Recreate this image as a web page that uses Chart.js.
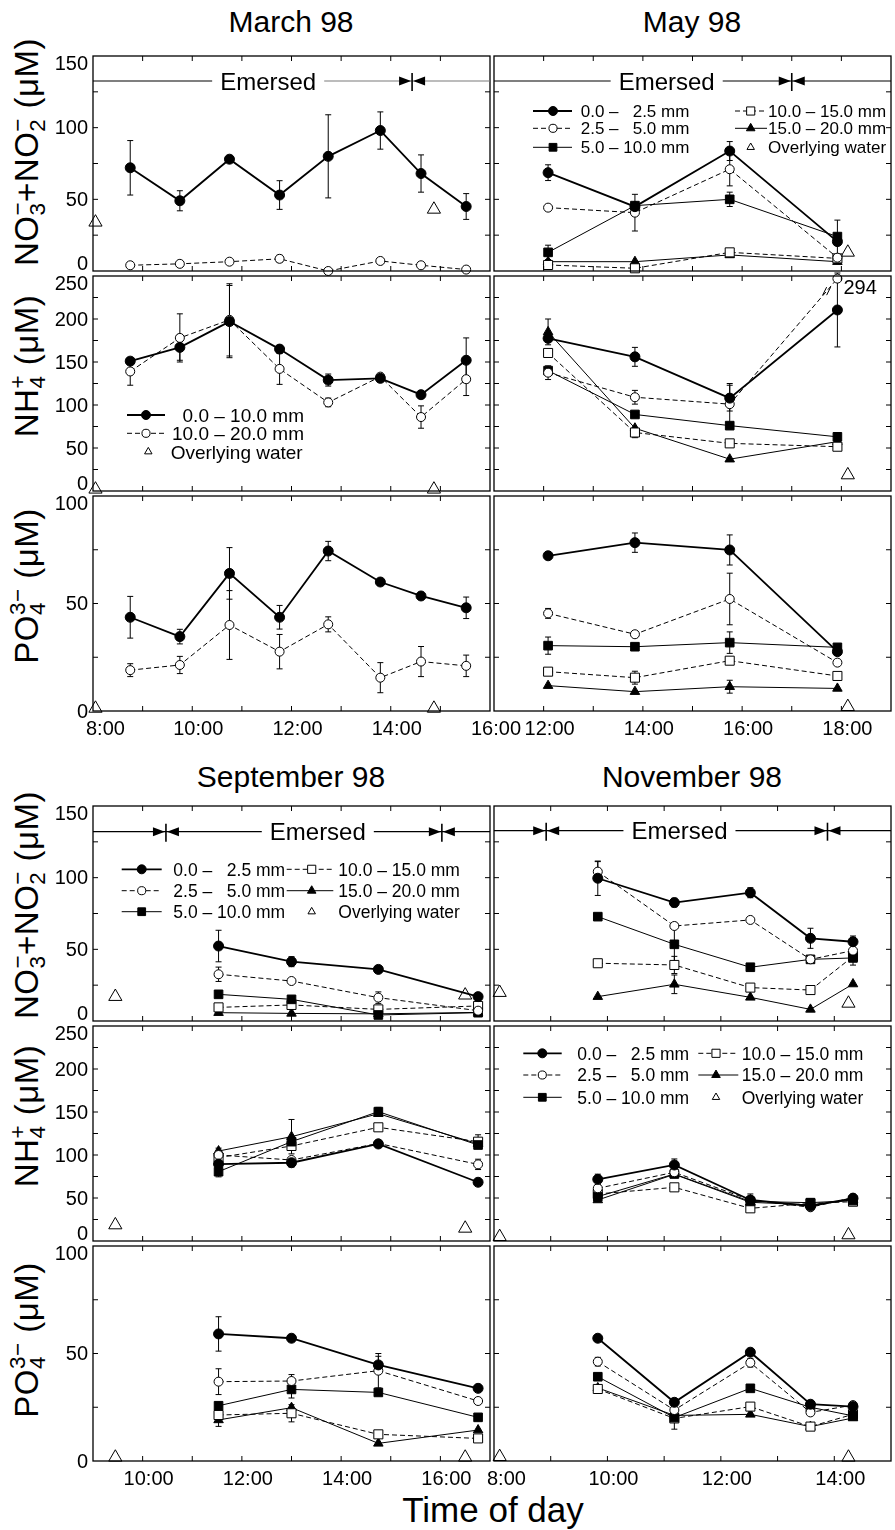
<!DOCTYPE html>
<html>
<head>
<meta charset="utf-8">
<title>Pore-water nutrients 1998</title>
<script src="https://cdn.jsdelivr.net/npm/chart.js@4.4.1/dist/chart.umd.min.js"></script>
<style>
  body { margin: 0; background: #fff; }
  #fig { position: relative; width: 895px; height: 1530px; overflow: hidden;
         font-family: "Liberation Sans", Arial, Helvetica, sans-serif; color: #000; }
  #fig canvas { position: absolute; }
  .title { position: absolute; font-size: 30px; white-space: nowrap; transform: translate(-50%, -50%); }
  .ytitle { position: absolute; font-size: 33px; letter-spacing: 0.5px; line-height: 1; white-space: nowrap;
            transform: translate(-50%, -50%) rotate(-90deg); }
  .st { display: inline-block; font-size: 0.68em; line-height: 0.9em; vertical-align: -0.3em; text-align: left; }
  .xtitle { position: absolute; font-size: 35px; white-space: nowrap; transform: translate(-50%, -50%); }
</style>
</head>
<body>
<div id="fig">
  <div class="title" style="left:291px;top:22px">March 98</div>
  <div class="title" style="left:692px;top:22px">May 98</div>
  <div class="title" style="left:291px;top:777px">September 98</div>
  <div class="title" style="left:692px;top:777px">November 98</div>

  <div class="ytitle" style="left:28px;top:152px">NO<span class="st">&minus;<br>3</span>+NO<span class="st">&minus;<br>2</span> (&mu;M)</div>
  <div class="ytitle" style="left:28px;top:366px">NH<span class="st">+<br>4</span> (&mu;M)</div>
  <div class="ytitle" style="left:28px;top:586px">PO<span class="st">3&minus;<br>4</span> (&mu;M)</div>
  <div class="ytitle" style="left:28px;top:905px">NO<span class="st">&minus;<br>3</span>+NO<span class="st">&minus;<br>2</span> (&mu;M)</div>
  <div class="ytitle" style="left:28px;top:1116px">NH<span class="st">+<br>4</span> (&mu;M)</div>
  <div class="ytitle" style="left:28px;top:1340px">PO<span class="st">3&minus;<br>4</span> (&mu;M)</div>

  <div class="xtitle" style="left:493px;top:1510px">Time of day</div>
</div>
<script>
const FONT = '"Liberation Sans", Arial, Helvetica, sans-serif';

// axis tick labels
const noxTicks = [0, 50, 100, 150];
const nh4Ticks = [0, 50, 100, 150, 200, 250];
const po4Ticks = [0, 50, 100];
const marchHours = [8, 10, 12, 14, 16];
const mayHours = [12, 14, 16, 18];
const sepHours = [10, 12, 14, 16];
const novHours = [8, 10, 12, 14];

// ---- March 98: 0-10 mm and 10-20 mm layers ----
const marchTimes = [8.75, 9.75, 10.75, 11.76, 12.74, 13.79, 14.61, 15.52];
const marchWaterTimes = [8.05, 14.87];
const marchNOxUpper = [72, 49, 78, 53, 80, 98, 68, 45];
const marchNOxUpperErr = [19, 7, 1.5, 10, 29, 13, 13, 9];
const marchNOxLower = [4, 5, 6.5, 8.5, 0, 7, 4, 1];
const marchNOxLowerErr = [0, 0, 0, 2.5, 0, 0, 0, 0];
const marchNOxWater = [34, 43];
const marchNH4Upper = [151, 167, 197, 165, 129, 131, 112, 152];
const marchNH4UpperErr = [4, 15, 42, 4, 7, 3, 3, 26];
const marchNH4Lower = [139, 178, 199, 142, 103, 133, 86, 130];
const marchNH4LowerErr = [16, 28, 42, 18, 5, 2, 13, 19];
const marchNH4Water = [2, 2];
const marchPO4Upper = [43.6, 34.6, 64, 43.6, 74.4, 60, 53.5, 48];
const marchPO4UpperErr = [9.7, 3.4, 12, 5.5, 4.5, 0, 0, 5];
const marchPO4Lower = [19, 21.4, 40, 27.6, 40.3, 15.5, 23, 21];
const marchPO4LowerErr = [3, 4, 16, 8, 3.5, 7, 7, 5];
const marchPO4Water = [1.2, 1.2];
const marchTide = [14.43];

// ---- May 98: five layers (0-2.5, 2.5-5, 5-10, 10-15, 15-20 mm) ----
const mayTimes = [12.09, 13.84, 15.75, 17.92];
const mayWaterTimes = [18.13];
const mayNOx = [
  [68.6, 44.9, 83.7, 20.5],
  [44.2, 40.7, 71.0, 9.3],
  [13.0, 45.6, 50.0, 24.0],
  [4.2, 1.9, 13.0, 8.8],
  [6.5, 6.5, 11.2, 6.5]];
const mayNOxErr = [
  [5.5, 0, 6.6, 15],
  [0, 12.8, 11.6, 0],
  [5, 0, 5, 0],
  [0, 0, 0, 0],
  [0, 0, 0, 0]];
const mayNOxWater = [13];
const mayNH4 = [
  [177.5, 156, 108, 210.5],
  [137.6, 109, 101, 294],
  [140, 89, 76, 63],
  [160.5, 68, 55.4, 51.5],
  [185, 73, 37, 57.4]];
const mayNH4Err = [
  [0, 11, 15, 43],
  [8, 8, 24, 0],
  [0, 0, 0, 0],
  [0, 6, 0, 0],
  [15, 0, 0, 0]];
const mayNH4Water = [18.6];
const mayPO4 = [
  [72.2, 78.3, 74.9, 27.6],
  [45.4, 35.7, 52.1, 22.5],
  [30.4, 29.9, 31.8, 29.6],
  [18.3, 15.5, 23.4, 16.3],
  [11.8, 9.0, 11.3, 10.5]];
const mayPO4Err = [
  [0, 4.5, 7, 0],
  [2.3, 0, 12, 0],
  [4, 0, 5, 0],
  [0, 3, 0, 0],
  [0, 0, 3, 0]];
const mayPO4Water = [2];
const mayTide = [17.0];

// ---- September 98 ----
const sepTimes = [11.53, 13.0, 14.75, 16.76];
const sepWaterTimes = [9.45, 16.5];
const sepNOx = [
  [52.3, 41.4, 36.0, 17.0],
  [32.6, 27.9, 16.3, 7.2],
  [18.6, 15.1, 4.2, 5.8],
  [9.5, 11.2, 8.1, 10.5],
  [5.8, 5.3, 5.0, 6.0]];
const sepNOxErr = [
  [11, 3.5, 0, 0],
  [5, 0, 4, 0],
  [0, 0, 0, 0],
  [0, 0, 0, 0],
  [0, 0, 0, 0]];
const sepNOxWater = [17, 18];
const sepNH4 = [
  [89.5, 91, 112.8, 68.3],
  [100, 94.2, 113.4, 89.1],
  [80.6, 115.5, 150.4, 111.6],
  [97, 110.5, 132.2, 115.5],
  [104.6, 121.3, 148, 113]];
const sepNH4Err = [
  [0, 5, 0, 0],
  [8, 0, 0, 6],
  [6, 0, 5, 0],
  [0, 0, 0, 8],
  [0, 20, 0, 0]];
const sepNH4Water = [18.6, 14.7];
const sepPO4 = [
  [59.1, 57.1, 44.7, 33.8],
  [36.9, 37.2, 42.0, 27.9],
  [25.7, 33.3, 31.9, 20.3],
  [21.4, 22.2, 12.4, 10.5],
  [19.1, 24.8, 8.2, 14.4]];
const sepPO4Err = [
  [8, 0, 4, 0],
  [6, 3, 8, 0],
  [0, 4, 0, 0],
  [0, 4, 0, 0],
  [3, 0, 0, 0]];
const sepPO4Water = [1.7, 1.7];
const sepTide = [10.47, 16.03];

// ---- November 98 ----
const novTimes = [9.83, 11.18, 12.52, 13.58, 14.33];
const novWaterTimes = [8.1, 14.25];
const novNOx = [
  [99.6, 82.6, 89.5, 57.7, 55.3],
  [104.2, 66.3, 70.5, 43.0, 49.1],
  [72.8, 53.5, 37.5, 43.0, 44.0],
  [40.3, 39.1, 23.3, 21.6, 45.0],
  [17.0, 25.6, 16.5, 8.1, 25.8]];
const novNOxErr = [
  [12, 3, 3.5, 7, 4],
  [7, 0, 0, 0, 0],
  [0, 15, 0, 0, 5],
  [0, 6, 0, 0, 0],
  [0, 6.5, 0, 0, 0]];
const novNOxWater = [19.8, 12.3];
const novNH4 = [
  [71.7, 88.4, 47.7, 40.7, 49.6],
  [61.3, 79.9, 47.7, 39.2, 50.4],
  [51.6, 77.9, 46.0, 44.6, 47.0],
  [54.7, 62.4, 38.0, 43.8, 45.7],
  [47.7, 77.5, 45.0, 42.0, 48.0]];
const novNH4Err = [
  [6, 7, 7, 0, 0],
  [0, 0, 0, 0, 0],
  [0, 0, 0, 0, 0],
  [0, 0, 0, 0, 0],
  [0, 0, 0, 0, 0]];
const novNH4Water = [5, 7];
const novPO4 = [
  [57.1, 27.3, 50.6, 26.4, 25.3],
  [46.2, 23.7, 45.7, 22.6, 26.0],
  [39.2, 20.2, 33.8, 25.0, 21.0],
  [33.5, 19.8, 25.3, 16.0, 21.7],
  [34.0, 21.2, 21.7, 16.0, 20.0]];
const novPO4Err = [
  [0, 0, 0, 0, 0],
  [2, 0, 2, 0, 0],
  [0, 0, 0, 0, 0],
  [0, 5, 0, 0, 0],
  [0, 0, 0, 0, 0]];
const novPO4Water = [2, 1.7];
const novTide = [8.92, 13.88];

// marker / line style for each layer
const STY = {
  d0: { style: 'circle', fill: '#000', r: 5, lw: 1.8, dash: [] },
  d1: { style: 'circle', fill: '#fff', r: 4.5, lw: 1, dash: [5, 3] },
  d2: { style: 'rect', fill: '#000', r: 6.1, lw: 1, dash: [] },
  d3: { style: 'rect', fill: '#fff', r: 6.4, lw: 1, dash: [5, 3] },
  d4: { style: 'triangle', fill: '#000', r: 5.5, lw: 1, dash: [] },
  w:  { style: 'triangle', fill: '#fff', r: 7.6, lw: 1, dash: [] }
};
const LAYER_KEYS = ['d0', 'd1', 'd2', 'd3', 'd4'];

function series(key, times, vals, errs, cap) {
  const s = STY[key];
  return {
    data: times.map((t, i) => ({ x: t, y: cap ? Math.min(vals[i], cap) : vals[i] })),
    errs: errs || null,
    showLine: key !== 'w',
    borderColor: '#000',
    borderWidth: s.lw,
    borderDash: s.dash,
    pointStyle: s.style,
    pointRadius: s.r,
    pointBackgroundColor: s.fill,
    pointBorderColor: '#000',
    pointBorderWidth: 1,
    tension: 0,
    fill: false,
    clip: false
  };
}

function layerSets(vals, errs, times, wTimes, wVals, cap) {
  const sets = vals.map((v, i) => series(LAYER_KEYS[i], times, v, errs[i], cap));
  sets.push(series('w', wTimes, wVals));
  return sets;
}

function drawMarker(ctx, style, x, y, r, fill) {
  ctx.save();
  ctx.setLineDash([]);
  ctx.lineWidth = 1;
  ctx.fillStyle = fill;
  ctx.strokeStyle = '#000';
  ctx.beginPath();
  if (style === 'circle') {
    ctx.arc(x, y, r, 0, Math.PI * 2);
  } else if (style === 'rect') {
    const s = r * Math.SQRT1_2;
    ctx.rect(x - s, y - s, 2 * s, 2 * s);
  } else {
    ctx.moveTo(x, y - r);
    ctx.lineTo(x + r * Math.sin(2 * Math.PI / 3), y - r * Math.cos(2 * Math.PI / 3));
    ctx.lineTo(x + r * Math.sin(4 * Math.PI / 3), y - r * Math.cos(4 * Math.PI / 3));
    ctx.closePath();
  }
  ctx.fill();
  ctx.stroke();
  ctx.restore();
}

function framePlugin(p) {
  return {
    id: 'frame',
    beforeDatasetsDraw(chart) {
      // error bars under the markers
      const ctx = chart.ctx, xs = chart.scales.x, ys = chart.scales.y;
      ctx.save();
      ctx.strokeStyle = '#000';
      ctx.lineWidth = 1;
      chart.data.datasets.forEach(ds => {
        if (!ds.errs) return;
        ds.data.forEach((pt, i) => {
          const e = ds.errs[i];
          if (!e) return;
          const x = xs.getPixelForValue(pt.x);
          const ya = ys.getPixelForValue(pt.y - e), yb = ys.getPixelForValue(pt.y + e);
          ctx.beginPath();
          ctx.moveTo(x, ya); ctx.lineTo(x, yb);
          ctx.moveTo(x - 3, ya); ctx.lineTo(x + 3, ya);
          ctx.moveTo(x - 3, yb); ctx.lineTo(x + 3, yb);
          ctx.stroke();
        });
      });
      ctx.restore();
    },
    afterDraw(chart) {
      const ctx = chart.ctx, a = chart.chartArea, xs = chart.scales.x, ys = chart.scales.y;
      ctx.save();
      ctx.strokeStyle = '#000';
      ctx.fillStyle = '#000';
      ctx.lineWidth = 1.3;
      ctx.strokeRect(a.left, a.top, a.right - a.left, a.bottom - a.top);

      // inward ticks
      ctx.lineWidth = 1;
      ctx.beginPath();
      for (let h = Math.floor(p.xmin) + 1; h < p.xmax; h++) {
        const x = xs.getPixelForValue(h);
        ctx.moveTo(x, a.top); ctx.lineTo(x, a.top + 5);
        ctx.moveTo(x, a.bottom); ctx.lineTo(x, a.bottom - 5);
      }
      for (let v = 25; v < p.ymax; v += 25) {
        const y = ys.getPixelForValue(v);
        ctx.moveTo(a.left, y); ctx.lineTo(a.left + 5, y);
        ctx.moveTo(a.right, y); ctx.lineTo(a.right - 5, y);
      }
      ctx.stroke();

      ctx.font = '20px ' + FONT;
      if (p.yLabels) {
        ctx.textAlign = 'right';
        ctx.textBaseline = 'middle';
        p.yTicks.forEach(v => {
          let y = ys.getPixelForValue(v);
          if (v === p.ymax) y = Math.max(y, a.top + 7);
          if (v === 0 && !p.xLabels) y = Math.min(y, a.bottom - 8);
          ctx.fillText(String(v), a.left - 5, y + 1);
        });
      }
      if (p.xLabels) {
        ctx.textAlign = 'center';
        ctx.textBaseline = 'alphabetic';
        p.xLabels.forEach(h => {
          const lab = h + ':00';
          const w = ctx.measureText(lab).width;
          const x = Math.max(xs.getPixelForValue(h) + 6, a.left - 7 + w / 2);
          ctx.fillText(lab, x, a.bottom + 24);
        });
      }

      // tide marker line
      if (p.emersed) {
        const e = p.emersed;
        const y = a.top + e.dy;
        ctx.font = '24px ' + FONT;
        const tx = xs.getPixelForValue(e.labelAt);
        const tw = ctx.measureText('Emersed').width;
        ctx.lineWidth = 1.2;
        ctx.beginPath();
        ctx.moveTo(a.left, y); ctx.lineTo(tx - tw / 2 - 8, y);
        ctx.stroke();
        ctx.strokeStyle = e.rightColor || '#000';
        ctx.beginPath();
        ctx.moveTo(tx + tw / 2 + 8, y); ctx.lineTo(a.right, y);
        ctx.stroke();
        ctx.strokeStyle = '#000';
        ctx.textAlign = 'center';
        ctx.textBaseline = 'alphabetic';
        ctx.fillText('Emersed', tx, y + 8.5);
        e.bars.forEach(t => {
          const bx = xs.getPixelForValue(t);
          ctx.lineWidth = 1.6;
          ctx.beginPath(); ctx.moveTo(bx, y - 8); ctx.lineTo(bx, y + 10); ctx.stroke();
          ctx.beginPath();
          ctx.moveTo(bx - 1, y); ctx.lineTo(bx - 13, y - 4.5); ctx.lineTo(bx - 13, y + 4.5); ctx.closePath();
          ctx.moveTo(bx + 1, y); ctx.lineTo(bx + 13, y - 4.5); ctx.lineTo(bx + 13, y + 4.5); ctx.closePath();
          ctx.fill();
        });
      }

      // legend
      if (p.legend) {
        const L = p.legend;
        ctx.font = L.font + 'px ' + FONT;
        ctx.textBaseline = 'alphabetic';
        L.items.forEach(it => {
          const s = STY[it.key];
          const y = a.top + it.y;
          if (it.line) {
            ctx.save();
            ctx.lineWidth = s.lw;
            ctx.setLineDash(s.dash);
            ctx.beginPath();
            ctx.moveTo(a.left + it.line[0], y); ctx.lineTo(a.left + it.line[1], y);
            ctx.stroke();
            ctx.restore();
          }
          const r = it.key === 'w' ? 4.3 : s.r * 0.9;
          drawMarker(ctx, s.style, a.left + it.mx, y, r, s.fill);
          const by = y + L.font * 0.36;
          if (it.split) {
            const ref = ctx.measureText(it.ref).width;
            ctx.textAlign = 'left';
            ctx.fillText(it.split[0], a.left + it.tx, by);
            ctx.textAlign = 'right';
            ctx.fillText(it.split[1], a.left + it.tx + ref, by);
          } else {
            ctx.textAlign = it.align || 'left';
            ctx.fillText(it.text, a.left + it.tx, by);
          }
        });
      }
      if (p.extra) p.extra(chart, ctx);
      ctx.restore();
    }
  };
}

function twoColLegend(rows, c1, c2, font) {
  const ref = '5.0 \u2013 10.0 mm';
  return { font, items: [
    { key: 'd0', y: rows[0], line: c1.line, mx: c1.mx, tx: c1.tx, split: ['0.0 \u2013', '2.5 mm'], ref },
    { key: 'd1', y: rows[1], line: c1.line, mx: c1.mx, tx: c1.tx, split: ['2.5 \u2013', '5.0 mm'], ref },
    { key: 'd2', y: rows[2], line: c1.line, mx: c1.mx, tx: c1.tx, text: '5.0 \u2013 10.0 mm' },
    { key: 'd3', y: rows[0], line: c2.line, mx: c2.mx, tx: c2.tx, text: '10.0 \u2013 15.0 mm' },
    { key: 'd4', y: rows[1], line: c2.line, mx: c2.mx, tx: c2.tx, text: '15.0 \u2013 20.0 mm' },
    { key: 'w', y: rows[2], mx: c2.mx, tx: c2.tx, text: 'Overlying water' }
  ]};
}

const LEFT = [93, 490], RIGHT = [494, 891];
const TOP_ROWS = [[56, 271], [276, 491], [496, 711]];
const BOT_ROWS = [[806, 1021], [1026, 1241], [1246, 1461]];

const marchLegend = { font: 19, items: [
  { key: 'd0', y: 139, line: [34, 72], mx: 53, tx: 211, align: 'right', text: '0.0 \u2013 10.0 mm' },
  { key: 'd1', y: 157.3, line: [34, 72], mx: 53, tx: 211, align: 'right', text: '10.0 \u2013 20.0 mm' },
  { key: 'w', y: 175.7, mx: 55.3, tx: 77.7, text: 'Overlying water' }
]};

const panels = [
  // March
  { cols: LEFT, rows: TOP_ROWS[0], xmin: 8, xmax: 16, ymax: 150, yTicks: noxTicks, yLabels: true,
    sets: [series('d0', marchTimes, marchNOxUpper, marchNOxUpperErr),
           series('d1', marchTimes, marchNOxLower, marchNOxLowerErr),
           series('w', marchWaterTimes, marchNOxWater)],
    emersed: { bars: marchTide, labelAt: 11.53, dy: 25, rightColor: '#7a7a7a' } },
  { cols: LEFT, rows: TOP_ROWS[1], xmin: 8, xmax: 16, ymax: 250, yTicks: nh4Ticks, yLabels: true,
    sets: [series('d0', marchTimes, marchNH4Upper, marchNH4UpperErr),
           series('d1', marchTimes, marchNH4Lower, marchNH4LowerErr),
           series('w', marchWaterTimes, marchNH4Water)],
    legend: marchLegend },
  { cols: LEFT, rows: TOP_ROWS[2], xmin: 8, xmax: 16, ymax: 100, yTicks: po4Ticks, yLabels: true, xLabels: marchHours,
    sets: [series('d0', marchTimes, marchPO4Upper, marchPO4UpperErr),
           series('d1', marchTimes, marchPO4Lower, marchPO4LowerErr),
           series('w', marchWaterTimes, marchPO4Water)] },
  // May
  { cols: RIGHT, rows: TOP_ROWS[0], xmin: 11, xmax: 19, ymax: 150,
    sets: layerSets(mayNOx, mayNOxErr, mayTimes, mayWaterTimes, mayNOxWater),
    emersed: { bars: mayTide, labelAt: 14.48, dy: 25 },
    legend: twoColLegend([55, 72.3, 91.3], { line: [39, 78], mx: 59, tx: 86.7 }, { line: [241, 273], mx: 256.7, tx: 274 }, 17) },
  { cols: RIGHT, rows: TOP_ROWS[1], xmin: 11, xmax: 19, ymax: 250,
    sets: layerSets(mayNH4, mayNH4Err, mayTimes, mayWaterTimes, mayNH4Water, 247),
    extra(chart, ctx) {
      // axis break on the off-scale 2.5-5.0 mm value
      const pts = chart.getDatasetMeta(1).data;
      const p2 = pts[2], p3 = pts[3];
      const bx = p2.x + (p3.x - p2.x) * 0.9, by = p2.y + (p3.y - p2.y) * 0.9;
      ctx.lineWidth = 1;
      ctx.setLineDash([]);
      ctx.beginPath();
      [-2, 2].forEach(o => {
        ctx.moveTo(bx + o - 2, by + 4); ctx.lineTo(bx + o + 2, by - 4);
      });
      ctx.stroke();
      ctx.font = '20px ' + FONT;
      ctx.textAlign = 'left';
      ctx.textBaseline = 'middle';
      ctx.fillText(String(mayNH4[1][3]), p3.x + 6, p3.y + 10);
    } },
  { cols: RIGHT, rows: TOP_ROWS[2], xmin: 11, xmax: 19, ymax: 100, xLabels: mayHours,
    sets: layerSets(mayPO4, mayPO4Err, mayTimes, mayWaterTimes, mayPO4Water) },
  // September
  { cols: LEFT, rows: BOT_ROWS[0], xmin: 9, xmax: 17, ymax: 150, yTicks: noxTicks, yLabels: true,
    sets: layerSets(sepNOx, sepNOxErr, sepTimes, sepWaterTimes, sepNOxWater),
    emersed: { bars: sepTide, labelAt: 13.53, dy: 25.7 },
    legend: twoColLegend([63.3, 84.7, 105.7], { line: [28.7, 68.7], mx: 48.7, tx: 80.3 }, { line: [193.7, 240.3], mx: 218.7, tx: 245.3 }, 17.5) },
  { cols: LEFT, rows: BOT_ROWS[1], xmin: 9, xmax: 17, ymax: 250, yTicks: nh4Ticks, yLabels: true,
    sets: layerSets(sepNH4, sepNH4Err, sepTimes, sepWaterTimes, sepNH4Water) },
  { cols: LEFT, rows: BOT_ROWS[2], xmin: 9, xmax: 17, ymax: 100, yTicks: po4Ticks, yLabels: true, xLabels: sepHours,
    sets: layerSets(sepPO4, sepPO4Err, sepTimes, sepWaterTimes, sepPO4Water) },
  // November
  { cols: RIGHT, rows: BOT_ROWS[0], xmin: 8, xmax: 15, ymax: 150,
    sets: layerSets(novNOx, novNOxErr, novTimes, novWaterTimes, novNOxWater),
    emersed: { bars: novTide, labelAt: 11.27, dy: 24.7 } },
  { cols: RIGHT, rows: BOT_ROWS[1], xmin: 8, xmax: 15, ymax: 250,
    sets: layerSets(novNH4, novNH4Err, novTimes, novWaterTimes, novNH4Water),
    legend: twoColLegend([27.3, 49, 71.3], { line: [29.3, 67.7], mx: 48.3, tx: 83.3 }, { line: [204.3, 244.3], mx: 222, tx: 247.7 }, 17.5) },
  { cols: RIGHT, rows: BOT_ROWS[2], xmin: 8, xmax: 15, ymax: 100, xLabels: novHours,
    sets: layerSets(novPO4, novPO4Err, novTimes, novWaterTimes, novPO4Water) }
];

const PAD = { left: 70, right: 40, top: 34, bottom: 40 };
const fig = document.getElementById('fig');

panels.forEach(p => {
  const [x0, x1] = p.cols, [y0, y1] = p.rows;
  const W = x1 - x0 + PAD.left + PAD.right, H = y1 - y0 + PAD.top + PAD.bottom;
  const c = document.createElement('canvas');
  c.width = W; c.height = H;
  c.style.left = (x0 - PAD.left) + 'px';
  c.style.top = (y0 - PAD.top) + 'px';
  c.style.width = W + 'px';
  c.style.height = H + 'px';
  fig.appendChild(c);
  new Chart(c, {
    type: 'line',
    data: { datasets: p.sets },
    options: {
      responsive: false,
      animation: false,
      devicePixelRatio: 1,
      events: [],
      layout: { padding: PAD, autoPadding: false },
      scales: {
        x: { type: 'linear', min: p.xmin, max: p.xmax, display: false },
        y: { type: 'linear', min: 0, max: p.ymax, display: false }
      },
      plugins: { legend: { display: false }, tooltip: { enabled: false } }
    },
    plugins: [framePlugin(p)]
  });
});
</script>
</body>
</html>
